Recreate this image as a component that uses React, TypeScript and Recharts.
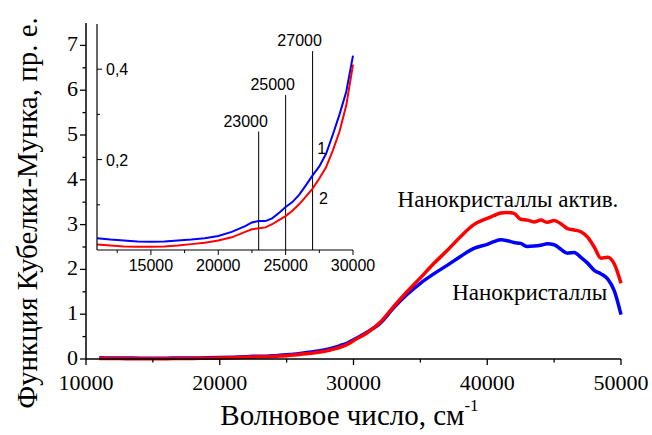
import React from 'react';
import { LineChart, Line, XAxis, YAxis, ReferenceLine, ReferenceDot } from 'recharts';

const waveNumbers = [
  11000, 12000, 13000, 14000, 15000, 16000, 17000, 18000, 19000, 20000, 21000, 22000, 22500, 23000,
  23500, 24000, 24500, 25000, 25500, 26000, 26500, 27000, 27500, 28000, 28500, 29000, 29500, 30000,
  31000, 32000, 33000, 34000, 35000, 36000, 37000, 38000, 39000, 40000, 40500, 41000, 41500, 42000,
  42500, 43000, 43500, 44000, 44500, 45000, 45500, 46000, 46500, 47000, 47500, 48000, 48500, 49000,
  49500, 50000,
];

// curve 1 — Нанокристаллы (blue)
const nanoPlain = [
  0.026, 0.023, 0.021, 0.019, 0.018, 0.019, 0.021, 0.023, 0.026, 0.031, 0.04, 0.053, 0.061, 0.064,
  0.064, 0.07, 0.082, 0.095, 0.106, 0.122, 0.143, 0.165, 0.185, 0.213, 0.255, 0.3, 0.35, 0.43,
  0.6, 0.8, 1.14, 1.44, 1.69, 1.9, 2.09, 2.29, 2.47, 2.56, 2.62, 2.66, 2.64, 2.6,
  2.58, 2.51, 2.52, 2.54, 2.57, 2.55, 2.45, 2.36, 2.38, 2.27, 2.14, 1.98, 1.9, 1.79,
  1.52, 0.99,
];

// curve 2 — Нанокристаллы актив. (red)
const nanoActive = [
  0.012, 0.01, 0.008, 0.007, 0.007, 0.008, 0.01, 0.013, 0.016, 0.021, 0.028, 0.04, 0.046, 0.048,
  0.05, 0.057, 0.066, 0.075, 0.087, 0.101, 0.118, 0.136, 0.158, 0.183, 0.22, 0.262, 0.32, 0.41,
  0.58, 0.82, 1.17, 1.5, 1.81, 2.13, 2.42, 2.73, 3.0, 3.14, 3.2, 3.26, 3.27, 3.25,
  3.12, 3.1, 3.06, 3.1, 3.05, 3.09, 3.02, 2.91, 2.88, 2.84, 2.72, 2.5, 2.25, 2.27,
  2.12, 1.69,
];

const mainXTicks = [10000, 15000, 20000, 25000, 30000, 35000, 40000, 45000, 50000];
const mainYTicks = [0, 0.5, 1, 1.5, 2, 2.5, 3, 3.5, 4, 4.5, 5, 5.5, 6, 6.5, 7];
const insetXTicks = [12500, 15000, 17500, 20000, 22500, 25000, 27500, 30000];
const insetYTicks = [0.1, 0.2, 0.3, 0.4];
const markers = [23000, 25000, 27000];
const markerTops = [0.262, 0.343, 0.44];

const data = waveNumbers.map((x, i) => ({ x, plain: nanoPlain[i], active: nanoActive[i] }));
const insetData = data.filter((d) => d.x <= 30000);

const SERIF = 'Times New Roman';
const SANS = 'Arial';
const BLUE = '#0000ff';
const RED = '#ff0000';

const isMajor = (v: number, step: number) => Math.abs(v / step - Math.round(v / step)) < 1e-6;

const MainBottomTick = ({ x, y, payload }: any) => {
  const major = isMajor(payload.value, 10000);
  return (
    <g>
      <line x1={x} y1={y} x2={x} y2={y + (major ? 6 : 3.5)} stroke="#000" strokeWidth={1.3} />
      {major && (
        <text x={x} y={y + 31} textAnchor="middle" style={{ fontFamily: SERIF, fontSize: 22 }} fill="#000">
          {payload.value}
        </text>
      )}
    </g>
  );
};

const MainTopTick = ({ x, y, payload }: any) => {
  const major = isMajor(payload.value, 10000);
  return <line x1={x} y1={y} x2={x} y2={y - (major ? 6 : 3.5)} stroke="#000" strokeWidth={1.3} />;
};

const MainLeftTick = ({ x, y, payload }: any) => {
  const major = isMajor(payload.value, 1);
  return (
    <g>
      <line x1={x} y1={y} x2={x - (major ? 6 : 3.5)} y2={y} stroke="#000" strokeWidth={1.3} />
      {major && (
        <text x={x - 8} y={y + 6} textAnchor="end" style={{ fontFamily: SERIF, fontSize: 22 }} fill="#000">
          {payload.value}
        </text>
      )}
    </g>
  );
};

const MainRightTick = ({ x, y, payload }: any) => {
  const major = isMajor(payload.value, 1);
  return <line x1={x} y1={y} x2={x + (major ? 6 : 3.5)} y2={y} stroke="#000" strokeWidth={1.3} />;
};

const InsetBottomTick = ({ x, y, payload }: any) => {
  const major = isMajor(payload.value, 5000);
  return (
    <g>
      <line x1={x} y1={y} x2={x} y2={y + (major ? 5 : 3)} stroke="#000" strokeWidth={1} />
      {major && (
        <text x={x} y={y + 21} textAnchor="middle" style={{ fontFamily: SANS, fontSize: 16 }} fill="#000">
          {payload.value}
        </text>
      )}
    </g>
  );
};

const InsetLeftTick = ({ x, y, payload }: any) => {
  const major = isMajor(payload.value, 0.2);
  return (
    <g>
      <line x1={x} y1={y} x2={x + (major ? 5 : 3)} y2={y} stroke="#000" strokeWidth={1} />
      {major && (
        <text x={x + 9} y={y + 6} textAnchor="start" style={{ fontFamily: SANS, fontSize: 16 }} fill="#000">
          {String(payload.value).replace('.', ',')}
        </text>
      )}
    </g>
  );
};

const markerLabel = (text: string) => (props: any) => {
  const vb = props.viewBox || {};
  return (
    <text x={vb.x - 13} y={vb.y - 5} textAnchor="middle" style={{ fontFamily: SANS, fontSize: 16 }} fill="#000">
      {text}
    </text>
  );
};

const dotLabel = (text: string, size: number, family: string) => (props: any) => {
  const vb = props.viewBox || {};
  const cx = vb.x + (vb.width || 0) / 2;
  const cy = vb.y + (vb.height || 0) / 2 + size * 0.33;
  return (
    <text x={cx} y={cy} textAnchor="middle" style={{ fontFamily: family, fontSize: size }} fill="#000">
      {text}
    </text>
  );
};

const XTitle = (props: any) => {
  const vb = props.viewBox || {};
  return (
    <text x={vb.x + vb.width / 2 - 4} y={vb.y + 66} textAnchor="middle" style={{ fontFamily: SERIF, fontSize: 29 }} fill="#000">
      Волновое число, см<tspan dy={-14} style={{ fontSize: 17 }}>-1</tspan>
    </text>
  );
};

export default function App() {
  return (
    <div style={{ position: 'absolute', left: 0, top: 0, width: 652, height: 435, background: '#fff' }}>
      <div style={{ position: 'absolute', left: 0, top: 0 }}>
        <LineChart width={652} height={435} data={data} margin={{ top: 23, right: 31, bottom: 0, left: 0 }}>
          <XAxis
            dataKey="x"
            type="number"
            domain={[10000, 50000]}
            ticks={mainXTicks}
            interval={0}
            height={76}
            tickSize={0}
            tickMargin={0}
            tickLine={false}
            tick={<MainBottomTick />}
            axisLine={{ stroke: '#000', strokeWidth: 1.5 }}
            label={<XTitle />}
          />
          <XAxis
            xAxisId="top"
            orientation="top"
            dataKey="x"
            type="number"
            domain={[10000, 50000]}
            ticks={mainXTicks}
            interval={0}
            height={0}
            tickSize={0}
            tickMargin={0}
            tickLine={false}
            tick={<MainTopTick />}
            axisLine={{ stroke: '#000', strokeWidth: 1.5 }}
          />
          <YAxis
            type="number"
            domain={[0, 7.5]}
            ticks={mainYTicks}
            interval={0}
            width={86}
            tickSize={0}
            tickMargin={0}
            tickLine={false}
            tick={<MainLeftTick />}
            axisLine={{ stroke: '#000', strokeWidth: 1.5 }}
          />
          <YAxis
            yAxisId="right"
            orientation="right"
            type="number"
            domain={[0, 7.5]}
            ticks={mainYTicks}
            interval={0}
            width={0}
            tickSize={0}
            tickMargin={0}
            tickLine={false}
            tick={<MainRightTick />}
            axisLine={{ stroke: '#000', strokeWidth: 1.5 }}
          />
          <Line type="monotone" dataKey="plain" stroke={BLUE} strokeWidth={3.5} dot={false} isAnimationActive={false} />
          <Line type="monotone" dataKey="active" stroke={RED} strokeWidth={3.5} dot={false} isAnimationActive={false} />
          <ReferenceDot x={41550} y={3.56} r={0} label={dotLabel('Нанокристаллы актив.', 23, SERIF)} />
          <ReferenceDot x={43175} y={1.48} r={0} label={dotLabel('Нанокристаллы', 23, SERIF)} />
        </LineChart>
        <svg width={60} height={435} style={{ position: 'absolute', left: 0, top: 0 }}>
          <text
            transform="translate(37, 213) rotate(-90)"
            textAnchor="middle"
            style={{ fontFamily: SERIF, fontSize: 29 }}
            fill="#000"
          >
            Функция Кубелки-Мунка, пр. е.
          </text>
        </svg>
      </div>
      <div style={{ position: 'absolute', left: 0, top: 0 }}>
        <LineChart width={400} height={300} data={insetData} margin={{ top: 24, right: 47, bottom: 0, left: 0 }}>
          <XAxis
            dataKey="x"
            type="number"
            domain={[11000, 30000]}
            ticks={insetXTicks}
            interval={0}
            height={50}
            tickSize={0}
            tickMargin={0}
            tickLine={false}
            tick={<InsetBottomTick />}
            axisLine={{ stroke: '#000', strokeWidth: 1.2 }}
          />
          <YAxis
            type="number"
            domain={[0, 0.5]}
            ticks={insetYTicks}
            interval={0}
            width={97}
            tickSize={0}
            tickMargin={0}
            tickLine={false}
            tick={<InsetLeftTick />}
            axisLine={{ stroke: '#000', strokeWidth: 1.2 }}
          />
          {markers.map((m, i) => (
            <ReferenceLine
              key={m}
              segment={[
                { x: m, y: 0 },
                { x: m, y: markerTops[i] },
              ]}
              stroke="#000"
              strokeWidth={1}
              label={markerLabel(String(m))}
            />
          ))}
          <Line dataKey="plain" stroke={BLUE} strokeWidth={2} dot={false} isAnimationActive={false} />
          <Line dataKey="active" stroke={RED} strokeWidth={2} dot={false} isAnimationActive={false} />
          <ReferenceDot x={27680} y={0.225} r={0} label={dotLabel('1', 16, SANS)} />
          <ReferenceDot x={27800} y={0.114} r={0} label={dotLabel('2', 16, SANS)} />
        </LineChart>
      </div>
    </div>
  );
}
